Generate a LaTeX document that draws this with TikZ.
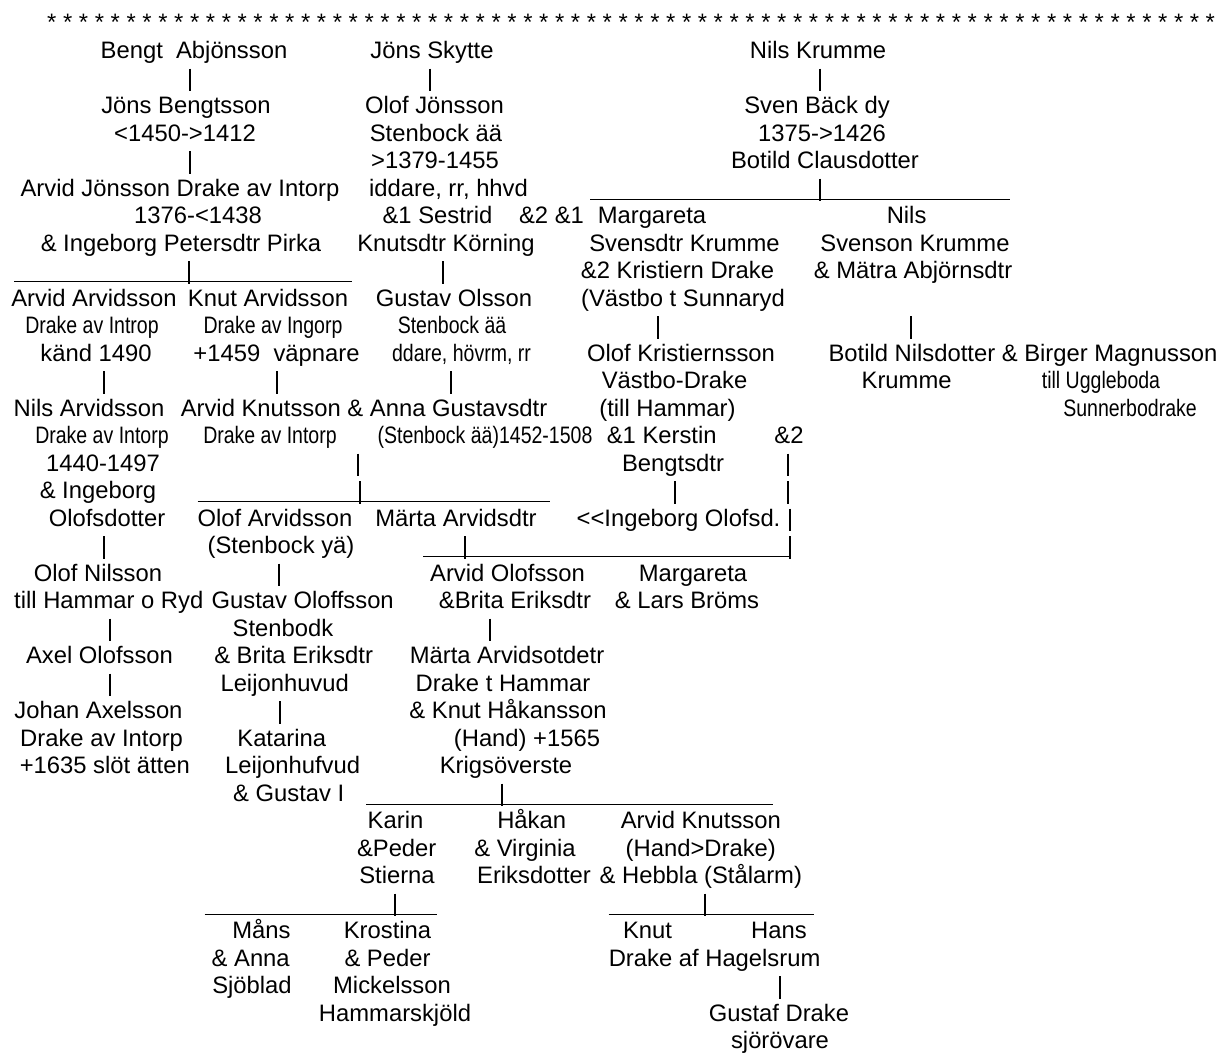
\documentclass[tikz,border=0pt]{standalone}
\usepackage{fontspec}
\setmainfont{Liberation Sans}
\newfontfamily\narrowfont[FakeStretch=0.82]{Liberation Sans}
\newcommand\rowb[1]{31+27.5*#1}
\newcommand\vbr[3]{%
  \coordinate (#1t) at (#2,\rowb{#3}-17.4);
  \coordinate (#1b) at (#2,\rowb{#3}+5);
  \draw[bar] (#1t) -- (#1b);}
\newcommand\undl[4]{%
  \coordinate (#1l) at (#2,\rowb{#4}+3.3);
  \coordinate (#1r) at (#3,\rowb{#4}+3.3);
  \draw[bar] (#1l) -- (#1r);}
\tikzset{
  txt/.style={anchor=base,inner sep=0pt,font=\fontsize{23.8}{27.5}\selectfont},
  nar/.style={anchor=base,inner sep=0pt,font=\narrowfont\fontsize{23.8}{27.5}\selectfont},
  bar/.style={line width=1.3pt,black}
}
\begin{document}
\begin{tikzpicture}[x=1pt,y=-1pt]
\fill[white] (0,0) rectangle (1231,1057);
\useasboundingbox (0,0) rectangle (1231,1057);
% row 0
\node[txt,anchor=base west] (stars) at (47,\rowb{0}) {* * * * * * * * * * * * * * * * * * * * * * * * * * * * * * * * * * * * * * * * * * * * * * * * * * * * * * * * * * * * * * * * * * * * * * * * * *};
% row 1
\node[txt] (bengt) at (194,\rowb{1}) {Bengt\ \ Abjönsson};
\node[txt] (skytte) at (432,\rowb{1}) {Jöns Skytte};
\node[txt] (krumme) at (818,\rowb{1}) {Nils Krumme};
% row 2
\vbr{a1}{190}{2} \vbr{a2}{430}{2} \vbr{a3}{820}{2}
% row 3
\node[txt] (jonsb) at (186,\rowb{3}) {Jöns Bengtsson};
\node[txt] (olofj) at (434.5,\rowb{3}) {Olof Jönsson};
\node[txt] (svenb) at (817,\rowb{3}) {Sven Bäck dy};
% row 4
\node[txt] (jonsb2) at (185,\rowb{4}) {<1450->1412};
\node[txt] (olofj2) at (436,\rowb{4}) {Stenbock ää};
\node[txt] (svenb2) at (822,\rowb{4}) {1375->1426};
% row 5
\vbr{a4}{190}{5}
\node[txt] (olofj3) at (435,\rowb{5}) {>1379-1455};
\node[txt] (botc) at (825,\rowb{5}) {Botild Clausdotter};
% row 6
\node[txt] (arvidj) at (180,\rowb{6}) {Arvid Jönsson Drake av Intorp};
\node[txt] (olofj4) at (448.5,\rowb{6}) {iddare, rr, hhvd};
\undl{u1}{590}{1010}{6} \vbr{a5}{820}{6}
% row 7
\node[txt] (arvidj2) at (198,\rowb{7}) {1376-<1438};
\node[txt] (sestrid) at (437.5,\rowb{7}) {\&1 Sestrid};
\node[txt] (amp21) at (551.5,\rowb{7}) {\&2 \&1};
\node[txt] (marg) at (652,\rowb{7}) {Margareta};
\node[txt] (nils) at (906.6,\rowb{7}) {Nils};
% row 8
\node[txt] (ingeb) at (181,\rowb{8}) {\& Ingeborg Petersdtr Pirka};
\node[txt] (sestrid2) at (446,\rowb{8}) {Knutsdtr Körning};
\node[txt] (marg2) at (684.5,\rowb{8}) {Svensdtr Krumme};
\node[txt] (nils2) at (915,\rowb{8}) {Svenson Krumme};
% row 9
\undl{u2}{14}{352}{9} \vbr{a6}{189}{9} \vbr{a7}{443}{9}
\node[txt] (marg3) at (677.5,\rowb{9}) {\&2 Kristiern Drake};
\node[txt] (nils3) at (913,\rowb{9}) {\& Mätra Abjörnsdtr};
% row 10
\node[txt] (arvida) at (94,\rowb{10}) {Arvid Arvidsson};
\node[txt] (knuta) at (268,\rowb{10}) {Knut Arvidsson};
\node[txt] (gustavo) at (454,\rowb{10}) {Gustav Olsson};
\node[txt] (marg4) at (683,\rowb{10}) {(Västbo t Sunnaryd};
% row 11
\node[nar] (arvida2) at (92,\rowb{11}) {Drake av Introp};
\node[nar] (knuta2) at (273,\rowb{11}) {Drake av Ingorp};
\node[nar] (gustavo2) at (452,\rowb{11}) {Stenbock ää};
\vbr{a8}{658}{11} \vbr{a9}{911}{11}
% row 12
\node[txt] (arvida3) at (96,\rowb{12}) {känd 1490};
\node[txt] (knuta3) at (276.5,\rowb{12}) {+1459\ \ väpnare};
\node[nar] (gustavo3) at (461.5,\rowb{12}) {ddare, hövrm, rr};
\node[txt] (olofk) at (681,\rowb{12}) {Olof Kristiernsson};
\node[txt] (botn) at (1023,\rowb{12}) {Botild Nilsdotter \& Birger Magnusson};
% row 13
\vbr{a10}{104}{13} \vbr{a11}{277}{13} \vbr{a12}{451}{13}
\node[txt] (olofk2) at (674.5,\rowb{13}) {Västbo-Drake};
\node[txt] (botn2) at (906.6,\rowb{13}) {Krumme};
\node[nar] (birger) at (1101,\rowb{13}) {till Uggleboda};
% row 14
\node[txt] (nilsa) at (89,\rowb{14}) {Nils Arvidsson};
\node[txt] (arvidk) at (364,\rowb{14}) {Arvid Knutsson \& Anna Gustavsdtr};
\node[txt] (olofk3) at (667.5,\rowb{14}) {(till Hammar)};
\node[nar] (birger2) at (1130,\rowb{14}) {Sunnerbodrake};
% row 15
\node[nar] (nilsa2) at (102,\rowb{15}) {Drake av Intorp};
\node[nar] (arvidk2) at (270,\rowb{15}) {Drake av Intorp};
\node[nar] (anna) at (485,\rowb{15}) {(Stenbock ää)1452-1508};
\node[txt] (kerstin) at (661.7,\rowb{15}) {\&1 Kerstin};
\node[txt] (amp2) at (789,\rowb{15}) {\&2};
% row 16
\node[txt] (nilsa3) at (103,\rowb{16}) {1440-1497};
\vbr{a13}{358}{16}
\node[txt] (kerstin2) at (673,\rowb{16}) {Bengtsdtr};
\vbr{a14}{788}{16}
% row 17
\node[txt] (nilsa4) at (98,\rowb{17}) {\& Ingeborg};
\undl{u3}{197.7}{549.6}{17} \vbr{a15}{360}{17}
\vbr{a16}{675}{17} \vbr{a17}{788}{17}
% row 18
\node[txt] (nilsa5) at (107,\rowb{18}) {Olofsdotter};
\node[txt] (olofa) at (275,\rowb{18}) {Olof Arvidsson};
\node[txt] (marta) at (456,\rowb{18}) {Märta Arvidsdtr};
\node[txt] (ingo) at (678.5,\rowb{18}) {<\kern0pt<Ingeborg Olofsd.};
\vbr{a18}{790}{18}
% row 19
\vbr{a19}{104}{19}
\node[txt] (olofa2) at (281,\rowb{19}) {(Stenbock yä)};
\undl{u4}{423}{790}{19} \vbr{a20}{465}{19} \vbr{a21}{790}{19}
% row 20
\node[txt] (olofn) at (98,\rowb{20}) {Olof Nilsson};
\vbr{a22}{279}{20}
\node[txt] (arvido) at (507.5,\rowb{20}) {Arvid Olofsson};
\node[txt] (margl) at (693,\rowb{20}) {Margareta};
% row 21
\node[txt,anchor=base west] (olofn2) at (14,\rowb{21}) {till Hammar o Ryd};
\node[txt,anchor=base west] (gustol) at (211.4,\rowb{21}) {Gustav Oloffsson};
\node[txt] (arvido2) at (515,\rowb{21}) {\&Brita Eriksdtr};
\node[txt] (margl2) at (687,\rowb{21}) {\& Lars Bröms};
% row 22
\vbr{a23}{110}{22}
\node[txt] (gustol2) at (283,\rowb{22}) {Stenbodk};
\vbr{a24}{490}{22}
% row 23
\node[txt] (axel) at (99.5,\rowb{23}) {Axel Olofsson};
\node[txt] (gustol3) at (293.6,\rowb{23}) {\& Brita Eriksdtr};
\node[txt] (marta2) at (507,\rowb{23}) {Märta Arvidsotdetr};
% row 24
\vbr{a25}{110}{24}
\node[txt] (gustol4) at (284.7,\rowb{24}) {Leijonhuvud};
\node[txt] (marta3) at (503,\rowb{24}) {Drake t Hammar};
% row 25
\node[txt] (johan) at (98.5,\rowb{25}) {Johan Axelsson};
\vbr{a26}{280}{25}
\node[txt] (marta4) at (508,\rowb{25}) {\& Knut Håkansson};
% row 26
\node[txt] (johan2) at (101.6,\rowb{26}) {Drake av Intorp};
\node[txt] (katarina) at (281.7,\rowb{26}) {Katarina};
\node[txt] (marta5) at (527,\rowb{26}) {(Hand) +1565};
% row 27
\node[txt] (johan3) at (104.8,\rowb{27}) {+1635 slöt ätten};
\node[txt] (katarina2) at (292.6,\rowb{27}) {Leijonhufvud};
\node[txt] (marta6) at (506,\rowb{27}) {Krigsöverste};
% row 28
\node[txt] (katarina3) at (288.7,\rowb{28}) {\& Gustav I};
\undl{u5}{366}{773}{28} \vbr{a27}{502}{28}
% row 29
\node[txt] (karin) at (395.5,\rowb{29}) {Karin};
\node[txt] (hakan) at (531.7,\rowb{29}) {Håkan};
\node[txt] (arvidk3) at (700.8,\rowb{29}) {Arvid Knutsson};
% row 30
\node[txt] (karin2) at (396.7,\rowb{30}) {\&Peder};
\node[txt] (hakan2) at (525,\rowb{30}) {\& Virginia};
\node[txt] (arvidk4) at (700.8,\rowb{30}) {(Hand>Drake)};
% row 31
\node[txt] (karin3) at (397,\rowb{31}) {Stierna};
\node[txt] (hakan3) at (534,\rowb{31}) {Eriksdotter};
\node[txt] (arvidk5) at (700.8,\rowb{31}) {\& Hebbla (Stålarm)};
% row 32
\undl{u6}{204.6}{436.7}{32} \vbr{a28}{395}{32}
\undl{u7}{608.6}{814}{32} \vbr{a29}{705}{32}
% row 33
\node[txt] (mans) at (261.5,\rowb{33}) {Måns};
\node[txt] (krostina) at (387.5,\rowb{33}) {Krostina};
\node[txt] (knut) at (647.5,\rowb{33}) {Knut};
\node[txt] (hans) at (779,\rowb{33}) {Hans};
% row 34
\node[txt] (mans2) at (250.7,\rowb{34}) {\& Anna};
\node[txt] (krostina2) at (387.5,\rowb{34}) {\& Peder};
\node[txt] (knut2) at (714.6,\rowb{34}) {Drake af Hagelsrum};
% row 35
\node[txt] (mans3) at (252,\rowb{35}) {Sjöblad};
\node[txt] (krostina3) at (392,\rowb{35}) {Mickelsson};
\vbr{a30}{780}{35}
% row 36
\node[txt] (krostina4) at (395,\rowb{36}) {Hammarskjöld};
\node[txt] (gustaf) at (779,\rowb{36}) {Gustaf Drake};
% row 37
\node[txt] (gustaf2) at (780,\rowb{37}) {sjörövare};
\end{tikzpicture}
\end{document}
